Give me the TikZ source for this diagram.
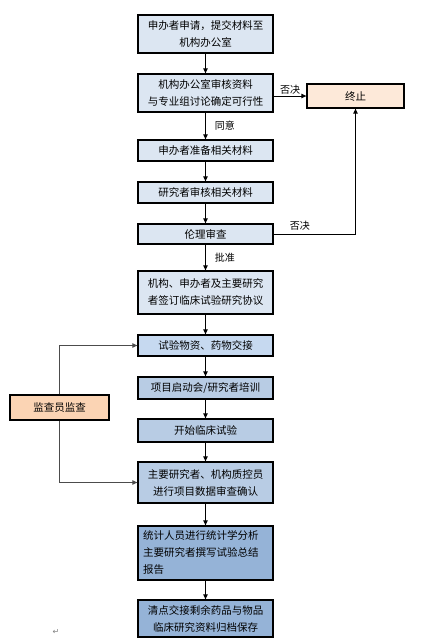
\documentclass[tikz,border=0pt]{standalone}
\usepackage{fontspec}
\usepackage{tikz}
\usetikzlibrary{arrows.meta, positioning, calc}
\usepackage{xcolor}
\setmainfont{Liberation Sans}
\newfontfamily\cjk{Noto Sans CJK SC}
\newfontfamily\symfont{DejaVu Sans}
\definecolor{paleblue}{RGB}{220, 230, 242}
\definecolor{midblue}{RGB}{198, 217, 240}
\definecolor{stepblue}{RGB}{184, 204, 228}
\definecolor{deepblue}{RGB}{149, 179, 215}
\definecolor{palepeach}{RGB}{253, 233, 217}
\definecolor{peach}{RGB}{251, 212, 180}
\tikzset{
    flowbox/.style={draw, line width=1.3pt, minimum width=135pt, align=center, inner sep=2pt,
        font=\cjk\fontsize{10.5}{17}\selectfont},
    flowarrow/.style={-{Triangle[length=5pt, width=4.5pt]}, line width=0.9pt},
    flowlabel/.style={font=\cjk\fontsize{10}{12}\selectfont, inner sep=1pt}
}

\begin{document}
\begin{tikzpicture}[x=1pt, y=-1pt]
        \useasboundingbox (0,0) rectangle (436,643);
        % Main column
        \node[flowbox, fill=paleblue, minimum height=38pt] (apply) at (205.5,34) {申办者申请，提交材料至\\机构办公室};
        \node[flowbox, fill=paleblue, minimum height=38pt] (review) at (205.5,93) {机构办公室审核资料\\与专业组讨论确定可行性};
        \node[flowbox, fill=paleblue, minimum height=21pt] (prepare) at (205.5,150.5) {申办者准备相关材料};
        \node[flowbox, fill=paleblue, minimum height=21pt] (check) at (205.5,192.5) {研究者审核相关材料};
        \node[flowbox, fill=paleblue, minimum height=20pt] (ethics) at (205.5,234) {伦理审查};
        \node[flowbox, fill=paleblue, minimum height=43pt] (sign) at (205.5,292.5) {机构、申办者及主要研究\\者签订临床试验研究协议};
        \node[flowbox, fill=midblue, minimum height=21pt] (handover) at (205.5,345.5) {试验物资、药物交接};
        \node[flowbox, fill=stepblue, minimum height=22pt] (kickoff) at (205.5,388) {项目启动会/研究者培训};
        \node[flowbox, fill=stepblue, minimum height=23pt] (start) at (205.5,430.5) {开始临床试验};
        \node[flowbox, fill=stepblue, minimum height=41pt] (verify) at (205.5,482.5) {主要研究者、机构质控员\\进行项目数据审查确认};
        \node[flowbox, fill=deepblue, minimum height=54pt, align=left, text width=125pt] (stats) at (205.5,553) {统计人员进行统计学分析\\主要研究者撰写试验总结\\报告};
        \node[flowbox, fill=deepblue, minimum height=37pt] (archive) at (205.5,618.5) {清点交接剩余药品与物品\\临床研究资料归档保存};
        % Side boxes
        \node[flowbox, fill=palepeach, minimum width=97pt, minimum height=24pt] (stop) at (355.5,96) {终止};
        \node[flowbox, fill=peach, minimum width=99pt, minimum height=25pt] (monitor) at (59.5,407.5) {监查员监查};
        \node[font=\symfont\fontsize{8}{8}\selectfont, text=gray] (mark) at (56,632) {↵};
        % Connectors
        \draw[flowarrow] (apply) -- (review);
        \draw[flowarrow] (review) -- node[flowlabel, right, xshift=8pt] {同意} (prepare);
        \draw[flowarrow] (prepare) -- (check);
        \draw[flowarrow] (check) -- (ethics);
        \draw[flowarrow] (ethics) -- node[flowlabel, right, xshift=8pt] {批准} (sign);
        \draw[flowarrow] (sign) -- (handover);
        \draw[flowarrow] (handover) -- (kickoff);
        \draw[flowarrow] (kickoff) -- (start);
        \draw[flowarrow] (start) -- (verify);
        \draw[flowarrow] (verify) -- (stats);
        \draw[flowarrow] (stats) -- (archive);
        \draw[flowarrow] (review.east |- stop.west) -- node[flowlabel, above] {否决} (stop.west);
        \draw[flowarrow] (ethics.east) -| node[flowlabel, pos=0.16, above, yshift=2pt] {否决} (stop.south);
        \draw[flowarrow, draw=gray!60!black] (monitor.north) |- (handover.west);
        \draw[flowarrow, draw=gray!60!black] (monitor.south) |- (verify.west);
    \end{tikzpicture}
\end{document}
